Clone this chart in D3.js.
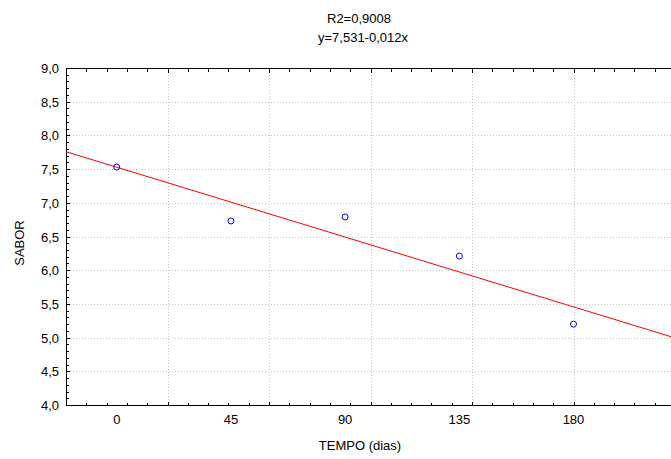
<!DOCTYPE html>
<html>
<head>
<meta charset="utf-8">
<script src="https://cdn.jsdelivr.net/npm/d3@7"></script>
<style>
  html, body { margin: 0; padding: 0; background: #fff; }
  svg { display: block; }
  text { font-family: "Liberation Sans", Arial, sans-serif; fill: #000; }
</style>
</head>
<body>
<svg id="chart" width="671" height="459"></svg>
<script>
// Observations: storage time (days) vs. flavour score
const tempo = [0, 45, 90, 135, 180];
const sabor = [7.53, 6.73, 6.79, 6.21, 5.20];

// Axis tick values / labels
const xTickLabels = [0, 45, 90, 135, 180];
const xGridValues = [-20, 20, 60, 100, 140, 180, 220];
const yTickValues = [4.0, 4.5, 5.0, 5.5, 6.0, 6.5, 7.0, 7.5, 8.0, 8.5, 9.0];

// Header text
const titleLines = ["R2=0,9008", "y=7,531-0,012x"];
const xTitle = "TEMPO (dias)";
const yTitle = "SABOR";

const svg = d3.select("#chart");
const plot = { left: 66, right: 675, top: 68, bottom: 405 };

const x = d3.scaleLinear().domain([-20, 220]).range([plot.left, plot.right]);
const y = d3.scaleLinear().domain([4, 9]).range([plot.bottom, plot.top]);

const fmt = v => d3.format(".1f")(v).replace(".", ",");

// Least-squares fit of the observations
const mx = d3.mean(tempo), my = d3.mean(sabor);
const sxy = d3.sum(tempo, (t, i) => (t - mx) * (sabor[i] - my));
const sxx = d3.sum(tempo, t => (t - mx) * (t - mx));
const slope = sxy / sxx;
const intercept = my - slope * mx;

// Dotted grid
const grid = svg.append("g")
  .attr("stroke", "#c4c4c4")
  .attr("stroke-width", 1)
  .attr("stroke-dasharray", "1,2")
  .attr("shape-rendering", "crispEdges");
grid.selectAll("line.h")
  .data(yTickValues.filter(v => v > 4 && v < 9))
  .join("line")
  .attr("x1", plot.left + 1).attr("x2", plot.right)
  .attr("y1", d => Math.round(y(d)) + 0.5).attr("y2", d => Math.round(y(d)) + 0.5);
grid.selectAll("line.v")
  .data(xGridValues.filter(v => v > -20 && v < 220))
  .join("line")
  .attr("x1", d => Math.round(x(d)) + 0.5).attr("x2", d => Math.round(x(d)) + 0.5)
  .attr("y1", plot.top + 1).attr("y2", plot.bottom);

// Axis frame: left, bottom and top lines
const frame = svg.append("g")
  .attr("stroke", "#000")
  .attr("stroke-width", 1)
  .attr("shape-rendering", "crispEdges");
frame.append("line").attr("x1", plot.left + 0.5).attr("x2", plot.left + 0.5)
  .attr("y1", plot.top).attr("y2", plot.bottom + 1);
frame.append("line").attr("x1", plot.left).attr("x2", plot.right)
  .attr("y1", plot.bottom + 0.5).attr("y2", plot.bottom + 0.5);
frame.append("line").attr("x1", plot.left).attr("x2", plot.right)
  .attr("y1", plot.top + 0.5).attr("y2", plot.top + 0.5);

// Inward tick marks
const yMinor = d3.range(40, 91).map(v => v / 10);
frame.selectAll("line.ty")
  .data(yMinor)
  .join("line")
  .attr("x1", plot.left)
  .attr("x2", d => plot.left + (Math.abs(d * 2 - Math.round(d * 2)) < 1e-6 ? 4 : 3))
  .attr("y1", d => Math.round(y(d)) + 0.5).attr("y2", d => Math.round(y(d)) + 0.5);

const xMinor = d3.range(-20, 221, 8);
[plot.bottom, plot.top].forEach((yy, k) => {
  frame.append("g").selectAll("line")
    .data(xMinor)
    .join("line")
    .attr("x1", d => Math.round(x(d)) + 0.5).attr("x2", d => Math.round(x(d)) + 0.5)
    .attr("y1", yy + 0.5)
    .attr("y2", d => {
      const len = xGridValues.includes(d) ? 4 : 3;
      return k === 0 ? yy + 0.5 - len : yy + 0.5 + len;
    });
});

// Tick labels
svg.append("g").selectAll("text")
  .data(yTickValues)
  .join("text")
  .attr("x", 59)
  .attr("y", d => y(d) + 5)
  .attr("text-anchor", "end")
  .attr("font-size", 13)
  .text(fmt);

svg.append("g").selectAll("text")
  .data(xTickLabels)
  .join("text")
  .attr("x", d => x(d))
  .attr("y", 424)
  .attr("text-anchor", "middle")
  .attr("font-size", 13)
  .text(d => d);

// Axis titles
svg.append("text")
  .attr("x", 360).attr("y", 450)
  .attr("text-anchor", "middle")
  .attr("font-size", 13)
  .text(xTitle);
svg.append("text")
  .attr("transform", "translate(24,243) rotate(-90)")
  .attr("text-anchor", "middle")
  .attr("font-size", 13)
  .text(yTitle);

// Header
svg.append("g").selectAll("text")
  .data(titleLines)
  .join("text")
  .attr("x", (d, i) => i === 0 ? 359 : 363)
  .attr("y", (d, i) => i === 0 ? 23 : 42)
  .attr("text-anchor", "middle")
  .attr("font-size", 13)
  .text(d => d);

// Fitted line
const [x0, x1] = x.domain();
svg.append("line")
  .attr("x1", x(x0)).attr("y1", y(intercept + slope * x0))
  .attr("x2", x(x1)).attr("y2", y(intercept + slope * x1))
  .attr("stroke", "#ff0000")
  .attr("stroke-width", 1);

// Observed points
svg.append("g").selectAll("circle")
  .data(tempo.map((t, i) => [t, sabor[i]]))
  .join("circle")
  .attr("cx", d => x(d[0]))
  .attr("cy", d => y(d[1]))
  .attr("r", 3)
  .attr("fill", "none")
  .attr("stroke", "#0000ff")
  .attr("stroke-width", 1);
</script>
</body>
</html>
